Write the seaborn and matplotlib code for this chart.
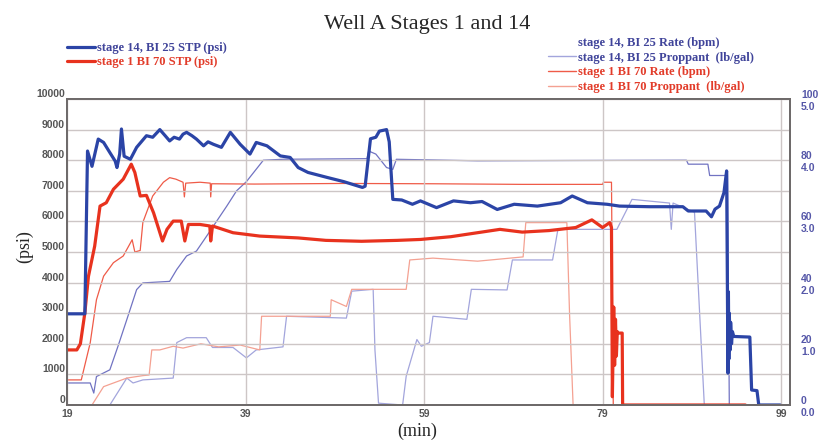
import numpy as np
import pandas as pd
import matplotlib
import seaborn as sns

matplotlib.use("Agg")
from matplotlib import pyplot as plt
from matplotlib.lines import Line2D

# ---- data (time in min) ----
# stage 14, BI 25 surface treating pressure (psi)
t_stp14 = [19.0, 21.0, 21.3, 21.8, 22.5, 23.1, 23.8, 24.4, 24.6, 24.9, 25.1, 25.4, 26.1, 26.8,
           27.9, 28.6, 29.4, 30.0, 30.5, 31.0, 31.6, 32.0, 32.4, 33.0, 33.5, 34.3, 34.8, 35.4,
           36.3, 37.3, 38.4, 39.5, 40.2, 41.4, 42.9, 44.0, 44.9, 46.0, 48.1, 50.0, 52.1, 52.4,
           53.0, 53.6, 54.0, 54.8, 55.1, 55.5, 56.5, 57.7, 58.6, 60.4, 62.3, 64.2, 65.5, 67.2,
           69.1, 71.7, 74.3, 75.6, 77.3, 79.5, 80.9, 84.3, 88.0, 88.6, 90.6, 91.2, 91.6, 92.1,
           92.6, 92.9, 93.05, 93.1, 93.15, 93.2, 93.3, 93.35, 93.45, 93.55, 93.7, 95.5, 95.7,
           96.3, 96.5, 98.9]
p_stp14 = [2980, 2980, 8300, 7800, 8690, 8580, 8250, 7970, 7760, 8200, 9020, 8130, 8030, 8420,
           8800, 8750, 9000, 8800, 8630, 8750, 8690, 8850, 8910, 8800, 8690, 8470, 8600, 8520,
           8420, 8910, 8520, 8200, 8580, 8470, 8140, 8090, 7760, 7600, 7440, 7300, 7110, 7150,
           8700, 8750, 8950, 9000, 8600, 6720, 6700, 6560, 6670, 6450, 6670, 6610, 6650, 6390,
           6560, 6500, 6610, 6830, 6610, 6560, 6500, 6480, 6480, 6340, 6340, 6150, 6400, 6500,
           6940, 7650, 1040, 3700, 1500, 3000, 1800, 2700, 2000, 2400, 2240, 2220, 490,
           470, 0, 0]

# stage 1, BI 70 surface treating pressure (psi)
t_stp1 = [19.0, 20.1, 20.5, 21.0, 21.4, 22.1, 22.7, 23.4, 24.2, 25.3, 26.2, 26.6, 27.2, 27.9,
          28.7, 29.7, 30.2, 30.9, 31.8, 32.2, 32.6, 33.9, 35.0, 35.1, 35.3, 37.6, 40.6, 44.9,
          48.0, 52.0, 56.0, 58.6, 62.0, 67.5, 70.0, 73.0, 76.0, 77.8, 79.0, 79.8, 80.0, 80.1,
          80.25, 80.35, 80.45, 80.55, 80.65, 80.7, 81.2, 81.25, 95.0]
p_stp1 = [1800, 1800, 2000, 3010, 4200, 5190, 6500, 6610, 7050, 7380, 7870, 7600, 6830, 6850,
          6280, 5360, 5740, 6010, 6010, 5360, 5900, 5900, 5850, 5360, 5850, 5630, 5520, 5460,
          5380, 5350, 5380, 5410, 5500, 5740, 5650, 5700, 5800, 6050, 5800, 5960, 5800, 270,
          3200, 1300, 2800, 1600, 2400, 2350, 2350, 0, 0]

# stage 14 rate (bpm)
t_rate14 = [19.0, 21.6, 22.0, 22.3, 23.8, 24.7, 25.7, 26.8, 27.5, 30.5, 31.3, 32.4, 33.5, 34.6,
            36.9, 38.0, 39.1, 41.0, 43.2, 52.6, 52.8, 53.6, 54.8, 55.5, 55.9, 65.0, 75.0, 88.4,
            88.6, 90.8, 91.0, 92.7, 93.0, 93.2, 99.0]
q_rate14 = [7.2, 7.2, 3.9, 9.3, 11.5, 19.1, 27.9, 37.7, 39.9, 40.4, 44.3, 48.7, 50.3, 55.0,
            65.0, 70.0, 73.0, 80.0, 80.3, 80.5, 83.0, 82.0, 77.6, 77.0, 80.3, 79.8, 79.9, 80.0,
            78.7, 78.7, 75.0, 75.0, 76.0, 0.0, 0.0]

# stage 14 proppant (lb/gal)
t_prop14 = [19.0, 23.8, 25.7, 26.4, 27.5, 30.9, 31.3, 32.4, 34.6, 35.3, 37.6, 39.1, 40.2, 43.2,
            43.6, 50.3, 50.9, 53.3, 53.5, 53.9, 56.6, 57.0, 58.2, 58.7, 59.6, 60.0, 63.8, 64.3,
            68.3, 68.9, 73.4, 74.0, 80.6, 82.3, 86.5, 86.7, 86.9, 89.3, 90.4, 99.0]
c_prop14 = [0.0, 0.0, 0.44, 0.36, 0.41, 0.44, 1.02, 1.10, 1.10, 0.94, 0.94, 0.77, 0.90, 0.95,
            1.45, 1.42, 1.86, 1.89, 0.90, 0.03, 0.0, 0.47, 1.07, 0.96, 1.02, 1.45, 1.40, 1.89,
            1.88, 2.37, 2.37, 2.87, 2.87, 3.36, 3.30, 2.87, 3.30, 3.15, 0.0, 0.0]

# stage 1 rate (bpm)
t_rate1 = [19.0, 20.6, 21.6, 22.3, 23.1, 24.2, 25.3, 26.3, 26.6, 27.2, 27.5, 28.6, 29.8, 30.5,
           31.2, 32.0, 32.15, 32.3, 33.9, 35.05, 35.1, 35.2, 40.0, 50.0, 60.0, 70.0, 79.0,
           79.1, 80.0, 80.2, 95.0]
q_rate1 = [8.2, 8.2, 20.3, 34.4, 42.1, 46.5, 48.7, 54.0, 50.0, 50.5, 59.7, 68.3, 72.8, 74.3,
           73.8, 72.8, 68.0, 72.5, 72.8, 72.5, 68.0, 72.3, 72.2, 72.4, 72.3, 72.1, 72.1,
           72.8, 72.8, 0.0, 0.0]

# stage 1 proppant (lb/gal)
t_prop1 = [19.0, 21.8, 23.1, 25.7, 27.5, 28.2, 28.5, 29.4, 30.9, 32.0, 34.0, 36.0, 38.4, 40.6,
           40.8, 43.2, 48.5, 48.6, 50.3, 50.9, 57.0, 57.4, 60.0, 65.0, 70.1, 70.4, 75.0, 75.3,
           75.7, 95.0]
c_prop1 = [0.0, 0.0, 0.30, 0.44, 0.48, 0.49, 0.90, 0.90, 0.96, 0.93, 1.00, 0.95, 0.98, 0.90,
           1.45, 1.45, 1.45, 1.72, 1.61, 1.89, 1.89, 2.37, 2.40, 2.35, 2.42, 2.98, 2.98, 1.50,
           0.0, 0.0]

x_ticks = [19, 39, 59, 79, 99]
rate_ticks = [0, 20, 40, 60, 80, 100]

BLUE = "#2b44a6"
RED = "#e8321e"
BLUE_RATE = "#7173c2"
BLUE_PROP = "#a3a5dc"
RED_RATE = "#ef5b48"
RED_PROP = "#f4a192"
BLUE_TXT = "#40449a"
RED_TXT = "#e23c2a"

sns.set_style("white")
plt.rcParams["font.family"] = ["Liberation Sans", "DejaVu Sans"]

fig = plt.figure(figsize=(8.38, 4.41), dpi=100)
ax = fig.add_axes([67 / 838, 1 - 405 / 441, 723 / 838, 306 / 441])
ax2 = ax.twinx()

# thin lines (rate, proppant) on the secondary scale; proppant lb/gal shown as rate/20
sns.lineplot(x=t_prop14, y=np.array(c_prop14) * 20, ax=ax2, color=BLUE_PROP, linewidth=0.9,
             estimator=None, sort=False)
sns.lineplot(x=t_prop1, y=np.array(c_prop1) * 20, ax=ax2, color=RED_PROP, linewidth=0.9,
             estimator=None, sort=False)
sns.lineplot(x=t_rate14, y=q_rate14, ax=ax2, color=BLUE_RATE, linewidth=0.9,
             estimator=None, sort=False)
sns.lineplot(x=t_rate1, y=q_rate1, ax=ax2, color=RED_RATE, linewidth=0.9,
             estimator=None, sort=False)

# thick pressure lines on top
sns.lineplot(x=t_stp1, y=p_stp1, ax=ax, color=RED, linewidth=2.3, estimator=None, sort=False)
sns.lineplot(x=t_stp14, y=p_stp14, ax=ax, color=BLUE, linewidth=2.3, estimator=None, sort=False)

ax.set_zorder(ax2.get_zorder() + 1)
ax.patch.set_visible(False)

ax.set_xlim(19, 100)
ax.set_ylim(0, 10000)
ax2.set_ylim(0, 100)
ax.set_xticks(x_ticks)
ax.set_yticks(range(0, 10001, 1000))
ax2.set_yticks(rate_ticks)
ax2.set_yticklabels([f"{r}\n{r / 20:.1f}" for r in rate_ticks], linespacing=1.25)

ax.grid(True, color="#cdc6c6", linewidth=1.0)
ax2.grid(False)
for a in (ax, ax2):
    for sp in a.spines.values():
        sp.set_color("#6e6a6a")
        sp.set_linewidth(1.4)

ax.tick_params(axis="both", length=0, labelsize=7.5, labelcolor="#555555")
ax.tick_params(axis="y", pad=1.5)
ax.tick_params(axis="x", pad=3)
for lab in ax.get_yticklabels():
    lab.set_va("bottom")
    lab.set_fontweight("bold")
for lab in ax.get_xticklabels():
    lab.set_fontweight("bold")
ax2.tick_params(axis="y", length=0, labelsize=7.5, labelcolor="#5557a8", pad=8)
for lab in ax2.get_yticklabels():
    lab.set_fontweight("bold")

ax.set_xlabel("")
ax.set_ylabel("")
ax2.set_ylabel("")
serif = ["Liberation Serif", "DejaVu Serif"]
fig.text(417 / 838, 1 - 431 / 441, "(min)", family=serif, fontsize=13, ha="center", va="center")
fig.text(25 / 838, 1 - 247 / 441, "(psi)", family=serif, fontsize=13, ha="center", va="center",
         rotation=90)
fig.text(427 / 838, 1 - 25 / 441, "Well A Stages 1 and 14", family=serif, fontsize=16,
         ha="center", va="center")

legend_font = dict(family=serif, weight="bold", size=9)
left_handles = [Line2D([], [], color=BLUE, linewidth=2.3), Line2D([], [], color=RED, linewidth=2.3)]
fig.legend(left_handles, ["stage 14, BI 25 STP (psi)", "stage 1 BI 70 STP (psi)"],
           loc="upper left", bbox_to_anchor=(67 / 838, 1 - 42 / 441), frameon=False,
           prop=legend_font, labelcolor=[BLUE_TXT, RED_TXT], handlelength=2.2,
           handletextpad=0.2, labelspacing=0.18, borderpad=0, borderaxespad=0)

right_handles = [Line2D([], [], color=BLUE_RATE, linewidth=1, alpha=0),
                 Line2D([], [], color=BLUE_PROP, linewidth=1),
                 Line2D([], [], color=RED_RATE, linewidth=1),
                 Line2D([], [], color=RED_PROP, linewidth=1)]
fig.legend(right_handles, ["stage 14, BI 25 Rate (bpm)", "stage 14, BI 25 Proppant  (lb/gal)",
                           "stage 1 BI 70 Rate (bpm)", "stage 1 BI 70 Proppant  (lb/gal)"],
           loc="upper left", bbox_to_anchor=(548 / 838, 1 - 37 / 441), frameon=False,
           prop=legend_font, labelcolor=[BLUE_TXT, BLUE_TXT, RED_TXT, RED_TXT],
           handlelength=2.2, handletextpad=0.2, labelspacing=0.22, borderpad=0, borderaxespad=0)

fig.savefig("out.png", dpi=100)
plt.close(fig)
